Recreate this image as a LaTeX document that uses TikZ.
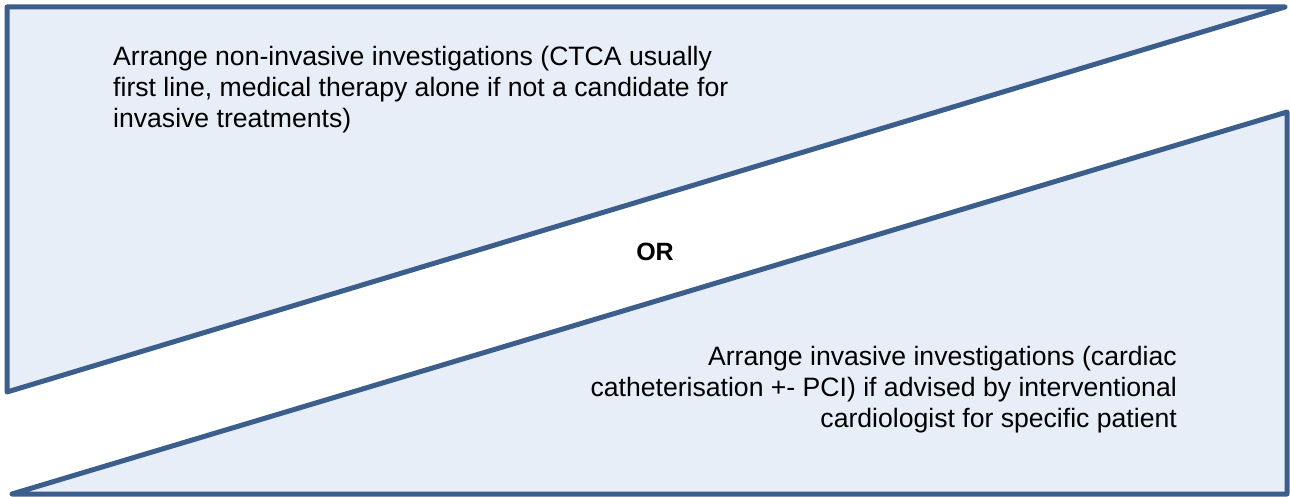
\documentclass[tikz,border=0pt]{standalone}
\usepackage{fontspec}
\setmainfont{Liberation Sans}
\definecolor{panelfill}{HTML}{E7EEF7}
\definecolor{paneledge}{HTML}{3B5E8C}
\tikzset{
  panel/.style={draw=paneledge, fill=panelfill, line width=5pt, line join=round},
  choice/.style={inner sep=0pt, font=\fontsize{26.6}{31}\selectfont}
}
\begin{document}
\begin{tikzpicture}[x=1pt,y=-1pt]
    \useasboundingbox (0,0) rectangle (1290,497);
    % Def coords
    \coordinate (TL) at (7,7);
    \coordinate (TR) at (1285,7);
    \coordinate (BL) at (7,392);
    \coordinate (UR) at (1287,112);
    \coordinate (LR) at (1287,494);
    \coordinate (LL) at (12,494);
    % Draw panels
    \draw[panel] (TL) -- (TR) -- (BL) -- cycle;
    \draw[panel] (UR) -- (LR) -- (LL) -- cycle;
    % Label
    \node[choice, anchor=north west, align=left] (noninv) at (113,46)
      {Arrange non-invasive investigations (CTCA usually\\
       first line, medical therapy alone if not a candidate for\\
       invasive treatments)};
    \node[choice, anchor=north east, align=right] (inv) at (1177,346)
      {Arrange invasive investigations (cardiac\\
       catheterisation +- PCI) if advised by interventional\\
       cardiologist for specific patient};
    \node[choice, font=\fontsize{25}{31}\selectfont\bfseries] (or) at (655,252) {OR};
\end{tikzpicture}
\end{document}
